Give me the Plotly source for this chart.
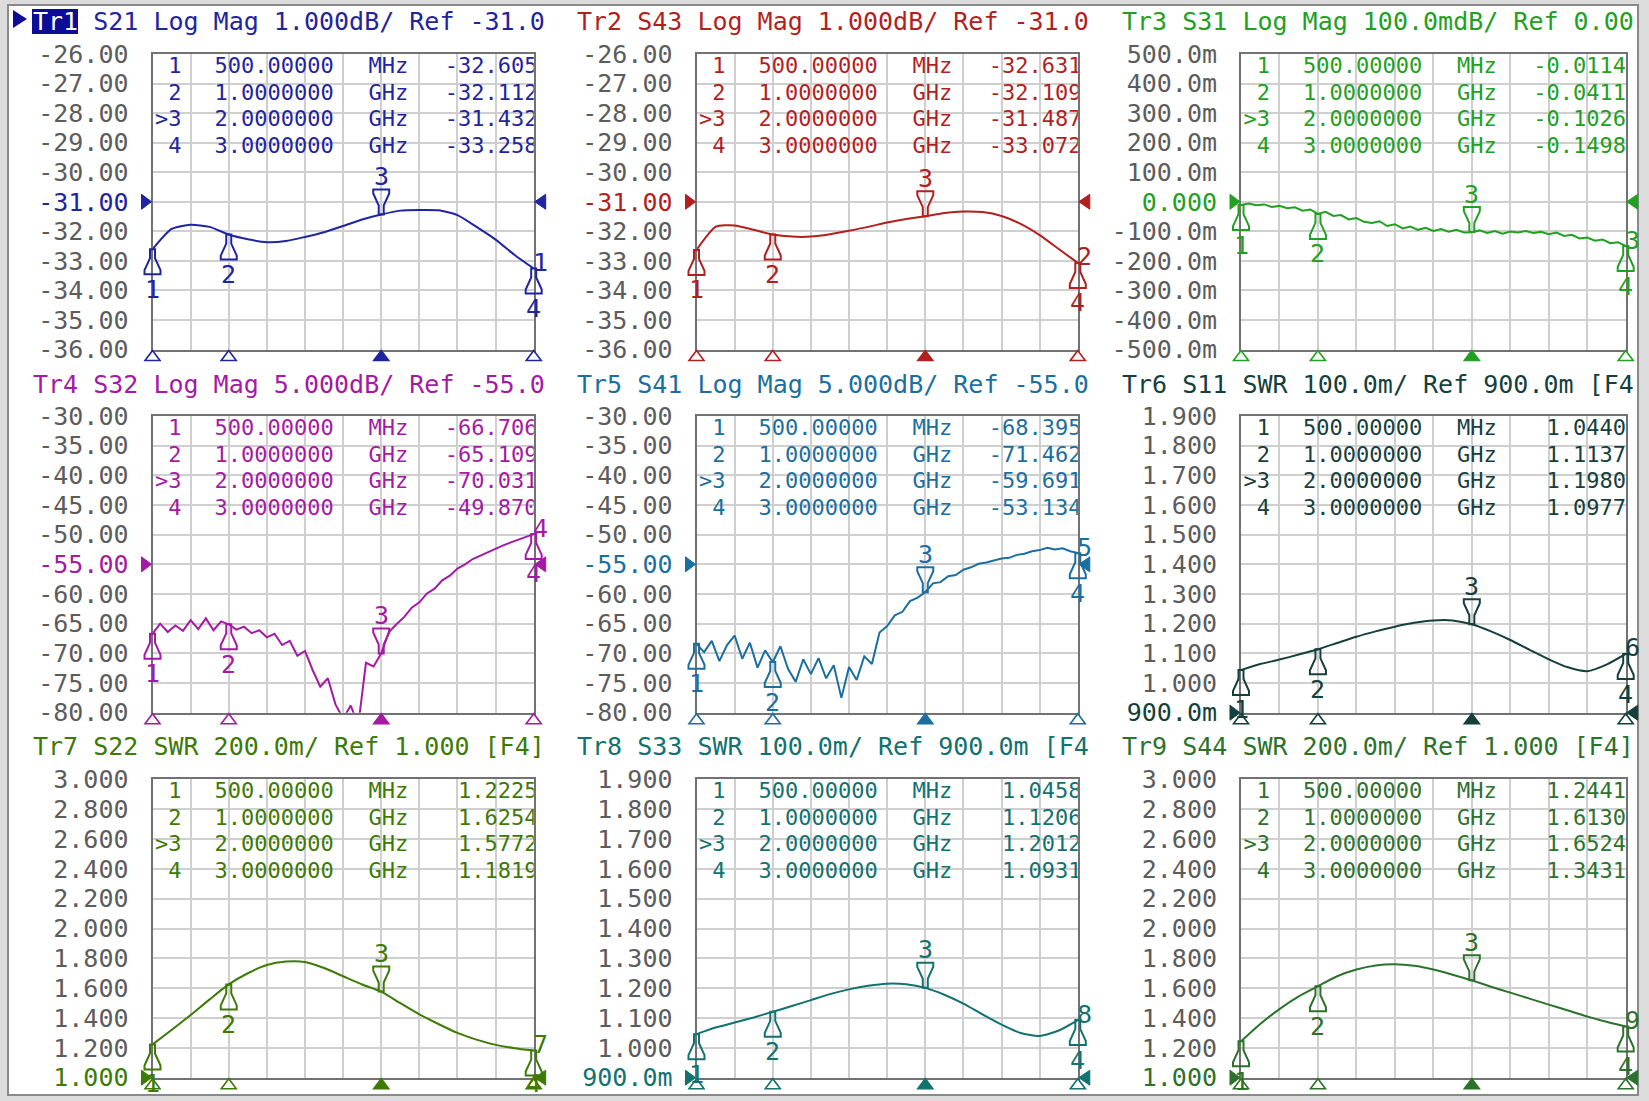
import plotly.graph_objects as go
from plotly.subplots import make_subplots

W, H = 1649, 1101
MONO = "DejaVu Sans Mono"
FS = 25          # headers, tick labels, marker numbers
FS_TABLE = 22    # marker table
NB = "\u00a0"
GRAY = "#5c5c5c"
GRID = "#cfcfcf"
FRAME = "#727272"

# sweep points (GHz)
FREQ = [0.5, 0.625, 0.75, 0.875, 1.0, 1.125, 1.25, 1.375, 1.5, 1.625, 1.75,
        1.875, 2.0, 2.125, 2.25, 2.375, 2.5, 2.625, 2.75, 2.875, 3.0]
FREQ_FINE = [0.50, 0.55, 0.60, 0.65, 0.70, 0.75, 0.80, 0.85, 0.90, 0.95,
             1.00, 1.05, 1.10, 1.15, 1.20, 1.25, 1.30, 1.35, 1.40, 1.45,
             1.50, 1.55, 1.60, 1.65, 1.70, 1.75, 1.80, 1.85, 1.90, 1.95,
             2.00, 2.05, 2.10, 2.15, 2.20, 2.25, 2.30, 2.35, 2.40, 2.45,
             2.50, 2.55, 2.60, 2.65, 2.70, 2.75, 2.80, 2.85, 2.90, 2.95, 3.00]
F_START, F_STOP = 0.5, 3.0

# markers
MK_FREQ = [0.5, 1.0, 2.0, 3.0]
MK_FREQ_TXT = ["500.00000", "1.0000000", "2.0000000", "3.0000000"]
MK_UNIT = ["MHz", "GHz", "GHz", "GHz"]

# traces
S21 = [-32.61, -31.92, -31.78, -31.85, -32.11, -32.27, -32.37, -32.33, -32.19, -32.03, -31.82,
       -31.60, -31.43, -31.30, -31.28, -31.29, -31.45, -31.85, -32.28, -32.80, -33.26]
S21_MK = [-32.605, -32.112, -31.432, -33.258]

S43 = [-32.63, -31.85, -31.80, -31.95, -32.11, -32.18, -32.18, -32.10, -31.98, -31.85, -31.70,
       -31.58, -31.49, -31.38, -31.33, -31.35, -31.48, -31.75, -32.13, -32.60, -33.07]
S43_MK = [-32.631, -32.109, -31.487, -33.072]

S31 = [-0.011, -0.006, -0.012, -0.009, -0.018, -0.014, -0.022, -0.019, -0.030, -0.026,
       -0.041, -0.034, -0.048, -0.045, -0.060, -0.055, -0.068, -0.072, -0.066, -0.082,
       -0.076, -0.090, -0.084, -0.095, -0.088, -0.099, -0.092, -0.101, -0.095, -0.104,
       -0.103, -0.097, -0.106, -0.099, -0.108, -0.101, -0.104, -0.099, -0.106, -0.102,
       -0.110, -0.104, -0.116, -0.112, -0.124, -0.121, -0.132, -0.128, -0.140, -0.137, -0.150]
S31_MK = [-0.0114, -0.0411, -0.1026, -0.1498]

S32 = [-66.7, -65.0, -66.4, -65.3, -66.2, -64.4, -65.9, -64.1, -66.1, -64.6,
       -65.1, -66.0, -65.5, -66.6, -66.1, -67.3, -66.7, -68.6, -67.9, -70.4,
       -69.6, -72.8, -75.6, -74.2, -78.6, -81.0, -78.8, -82.0, -71.6, -72.2,
       -70.0, -66.4, -65.1, -63.9, -62.3, -61.4, -59.9, -59.1, -57.7, -56.9,
       -55.7, -55.0, -54.1, -53.5, -52.9, -52.4, -51.8, -51.3, -50.8, -50.3, -49.9]
S32_MK = [-66.706, -65.109, -70.031, -49.870]

S41 = [-68.4, -69.8, -67.9, -71.3, -68.6, -67.0, -70.9, -68.2, -72.4, -69.5,
       -71.5, -68.8, -72.6, -74.8, -71.0, -73.5, -70.8, -74.2, -72.0, -77.5,
       -72.3, -74.5, -70.5, -71.8, -66.5, -65.4, -63.6, -63.0, -61.2, -60.6,
       -59.7, -58.2, -58.0, -57.0, -56.8, -55.9, -55.5, -54.9, -54.7, -54.3,
       -54.0, -53.9, -53.4, -53.2, -52.8, -52.6, -52.2, -52.5, -52.3, -52.8, -53.1]
S41_MK = [-68.395, -71.462, -59.691, -53.134]

S11 = [1.044, 1.064, 1.079, 1.096, 1.114, 1.135, 1.156, 1.174, 1.190, 1.203, 1.211,
       1.211, 1.198, 1.174, 1.145, 1.112, 1.080, 1.053, 1.040, 1.062, 1.098]
S11_MK = [1.0440, 1.1137, 1.1980, 1.0977]

S22 = [1.223, 1.320, 1.420, 1.525, 1.625, 1.700, 1.755, 1.778, 1.775, 1.735, 1.680,
       1.625, 1.577, 1.500, 1.425, 1.360, 1.300, 1.255, 1.220, 1.198, 1.182]
S22_MK = [1.2225, 1.6254, 1.5772, 1.1819]

S33 = [1.046, 1.068, 1.085, 1.102, 1.121, 1.140, 1.160, 1.180, 1.196, 1.208, 1.215,
       1.213, 1.201, 1.178, 1.148, 1.112, 1.078, 1.050, 1.040, 1.058, 1.093]
S33_MK = [1.0458, 1.1206, 1.2012, 1.0931]

S44 = [1.244, 1.360, 1.460, 1.545, 1.613, 1.680, 1.725, 1.752, 1.760, 1.750, 1.725,
       1.690, 1.652, 1.610, 1.570, 1.530, 1.490, 1.450, 1.410, 1.375, 1.343]
S44_MK = [1.2441, 1.6130, 1.6524, 1.3431]

# y tick labels, top to bottom
TICK_31 = ["-26.00", "-27.00", "-28.00", "-29.00", "-30.00", "-31.00",
           "-32.00", "-33.00", "-34.00", "-35.00", "-36.00"]
TICK_0 = ["500.0m", "400.0m", "300.0m", "200.0m", "100.0m", "0.000",
          "-100.0m", "-200.0m", "-300.0m", "-400.0m", "-500.0m"]
TICK_55 = ["-30.00", "-35.00", "-40.00", "-45.00", "-50.00", "-55.00",
           "-60.00", "-65.00", "-70.00", "-75.00", "-80.00"]
TICK_09 = ["1.900", "1.800", "1.700", "1.600", "1.500", "1.400",
           "1.300", "1.200", "1.100", "1.000", "900.0m"]
TICK_1 = ["3.000", "2.800", "2.600", "2.400", "2.200", "2.000",
          "1.800", "1.600", "1.400", "1.200", "1.000"]

PANELS = [
    dict(tr="Tr1", head="S21 Log Mag 1.000dB/ Ref -31.0", color="#1f24a0", x=FREQ, y=S21,
         mk=S21_MK, fmt="{:.3f}", ticks=TICK_31, top=-26.0, div=1.0, ref=-31.0, smooth=True),
    dict(tr="Tr2", head="S43 Log Mag 1.000dB/ Ref -31.0", color="#b31f1f", x=FREQ, y=S43,
         mk=S43_MK, fmt="{:.3f}", ticks=TICK_31, top=-26.0, div=1.0, ref=-31.0, smooth=True),
    dict(tr="Tr3", head="S31 Log Mag 100.0mdB/ Ref 0.00", color="#22a022", x=FREQ_FINE, y=S31,
         mk=S31_MK, fmt="{:.4f}", ticks=TICK_0, top=0.5, div=0.1, ref=0.0, smooth=False),
    dict(tr="Tr4", head="S32 Log Mag 5.000dB/ Ref -55.0", color="#a51aa5", x=FREQ_FINE, y=S32,
         mk=S32_MK, fmt="{:.3f}", ticks=TICK_55, top=-30.0, div=5.0, ref=-55.0, smooth=False),
    dict(tr="Tr5", head="S41 Log Mag 5.000dB/ Ref -55.0", color="#1b6fa0", x=FREQ_FINE, y=S41,
         mk=S41_MK, fmt="{:.3f}", ticks=TICK_55, top=-30.0, div=5.0, ref=-55.0, smooth=False),
    dict(tr="Tr6", head="S11 SWR 100.0m/ Ref 900.0m [F4", color="#153f3d", x=FREQ, y=S11,
         mk=S11_MK, fmt="{:.4f}", ticks=TICK_09, top=1.9, div=0.1, ref=0.9, smooth=True),
    dict(tr="Tr7", head="S22 SWR 200.0m/ Ref 1.000 [F4]", color="#3d7a06", x=FREQ, y=S22,
         mk=S22_MK, fmt="{:.4f}", ticks=TICK_1, top=3.0, div=0.2, ref=1.0, smooth=True),
    dict(tr="Tr8", head="S33 SWR 100.0m/ Ref 900.0m [F4", color="#117270", x=FREQ, y=S33,
         mk=S33_MK, fmt="{:.4f}", ticks=TICK_09, top=1.9, div=0.1, ref=0.9, smooth=True),
    dict(tr="Tr9", head="S44 SWR 200.0m/ Ref 1.000 [F4]", color="#2c722c", x=FREQ, y=S44,
         mk=S44_MK, fmt="{:.4f}", ticks=TICK_1, top=3.0, div=0.2, ref=1.0, smooth=True),
]

# screen geometry in pixels
COLS = [(152.5, 533.7), (696.5, 1077.8), (1241.0, 1625.7)]
ROWS = [(54.0, 349.5), (416.0, 712.7), (779.3, 1077.7)]
HEAD_X = [32.7, 577.3, 1121.5]
HEAD_Y = [21.7, 385.0, 746.7]
TABLE_OFF = [13.5, 40.0, 66.5, 93.0]          # row centres below grid top
TABLE_COL = [29.0, 62.0, 216.0, 385.0]        # num right, freq left, unit left, value right

UP_TACK = "M -2.5,0 L 2.5,0 L 2.5,-9 L 8,-21 L 8,-25 L -8,-25 L -8,-21 L -2.5,-9 Z"
DOWN_TACK = "M -2.5,0 L 2.5,0 L 2.5,9 L 8,21 L 8,25 L -8,25 L -8,21 L -2.5,9 Z"


def px(x):
    return x / W


def py(y):
    return 1 - y / H


fig = make_subplots(rows=3, cols=3)
shapes = [
    dict(type="rect", xref="paper", yref="paper", x0=px(8), x1=px(1638), y0=py(1095), y1=py(5),
         fillcolor="white", line=dict(color="#8a8a8a", width=2), layer="below"),
    dict(type="rect", xref="paper", yref="paper", x0=px(32), x1=px(78), y0=py(34), y1=py(9),
         fillcolor="#0c0c96", line=dict(width=0), layer="below"),
    dict(type="path", xref="paper", yref="paper",
         path=f"M {px(13)},{py(10)} L {px(27)},{py(19)} L {px(13)},{py(28)} Z",
         fillcolor="#0c0c96", line=dict(width=0)),
]
annotations = []

for k, p in enumerate(PANELS):
    r, c = divmod(k, 3)
    s = "" if k == 0 else str(k + 1)
    col = p["color"]
    bottom = p["top"] - 10 * p["div"]
    x0, x1 = COLS[c]
    y0, y1 = ROWS[r]

    # trace
    fig.add_trace(go.Scatter(
        x=p["x"], y=p["y"], mode="lines",
        line=dict(color=col, width=2, shape="spline" if p["smooth"] else "linear", smoothing=0.6),
        hoverinfo="skip", showlegend=False), row=r + 1, col=c + 1)

    # marker table, one text per field so the columns line up; clipped by the grid
    tx, ty, tt, tp = [], [], [], []
    for i in range(4):
        yy = p["top"] - TABLE_OFF[i] / (y1 - y0) * (p["top"] - bottom)
        fields = [(">" if i == 2 else "") + str(i + 1), MK_FREQ_TXT[i], MK_UNIT[i],
                  p["fmt"].format(p["mk"][i])]
        for j, txt in enumerate(fields):
            tx.append(F_START + TABLE_COL[j] / (x1 - x0) * (F_STOP - F_START))
            ty.append(yy)
            tt.append(txt)
            tp.append("middle left" if j in (0, 3) else "middle right")
    fig.add_trace(go.Scatter(
        x=tx, y=ty, mode="text", text=tt, textposition=tp,
        textfont=dict(family=MONO, size=FS_TABLE, color=col), cliponaxis=True,
        hoverinfo="skip", showlegend=False), row=r + 1, col=c + 1)

    # axes
    tickvals = [p["top"] - i * p["div"] for i in range(11)]
    ref_i = round((p["top"] - p["ref"]) / p["div"])
    ticktext = [f'<span style="color:{col}">{t}</span>' if i == ref_i else t
                for i, t in enumerate(p["ticks"])]
    fig.update_layout({
        f"xaxis{s}": dict(domain=[px(x0), px(x1)], range=[F_START, F_STOP], automargin=False,
                          tickvals=[F_START + 0.25 * i for i in range(11)], showticklabels=False,
                          ticks="", showgrid=True, gridcolor=GRID, gridwidth=2, zeroline=False,
                          showline=True, mirror=True, linecolor=FRAME, linewidth=2),
        f"yaxis{s}": dict(domain=[py(y1), py(y0)], range=[bottom, p["top"]], automargin=False,
                          tickvals=tickvals, ticktext=ticktext, ticks="",
                          tickfont=dict(family=MONO, size=FS, color=GRAY), ticklabelstandoff=17,
                          showgrid=True, gridcolor=GRID, gridwidth=2, zeroline=False,
                          showline=True, mirror=True, linecolor=FRAME, linewidth=2),
    })

    # header
    head = f'<span style="color:#ffffff">{p["tr"]}</span>' if k == 0 else p["tr"]
    head += (" " + p["head"]).replace(" ", NB)
    annotations.append(dict(xref="paper", yref="paper", x=px(HEAD_X[c] - 2), y=py(HEAD_Y[r]),
                            xanchor="left", yanchor="middle", text=head, showarrow=False,
                            font=dict(family=MONO, size=FS, color=col)))

    # reference level arrows
    ref_frac = (p["ref"] - bottom) / (p["top"] - bottom)
    for xa, path in ((0, "M -11,-7.5 L -1,0 L -11,7.5 Z"), (1, "M 1,0 L 12,7.5 L 12,-7.5 Z")):
        shapes.append(dict(type="path", xref=f"x{s} domain", yref=f"y{s} domain",
                           xsizemode="pixel", ysizemode="pixel", xanchor=xa, yanchor=ref_frac,
                           path=path, fillcolor=col, line=dict(color=col, width=1)))

    # markers
    for i, (f, v) in enumerate(zip(MK_FREQ, p["mk"])):
        fx = (f - F_START) / (F_STOP - F_START)
        active = i == 2
        shapes.append(dict(type="path", xref=f"x{s} domain", yref=f"y{s}",
                           xsizemode="pixel", ysizemode="pixel", xanchor=fx, yanchor=v,
                           path=DOWN_TACK if active else UP_TACK,
                           fillcolor="rgba(0,0,0,0)", line=dict(color=col, width=2)))
        shapes.append(dict(type="path", xref=f"x{s} domain", yref=f"y{s} domain",
                           xsizemode="pixel", ysizemode="pixel", xanchor=fx, yanchor=0,
                           path="M 0,-1 L -7.5,-11 L 7.5,-11 Z",
                           fillcolor=col if active else "white", line=dict(color=col, width=1.6)))
        # keep the number inside the screen when the marker sits near the bottom edge
        v_px = y0 + (p["top"] - v) / (p["top"] - bottom) * (y1 - y0)
        shift = 38 if active else -min(40, H - 17 - v_px)
        annotations.append(dict(xref=f"x{s}", yref=f"y{s}", x=f, y=v, text=str(i + 1),
                                showarrow=False, yshift=shift,
                                font=dict(family=MONO, size=FS, color=col)))

    # trace number at the end of the sweep
    annotations.append(dict(xref=f"x{s}", yref=f"y{s}", x=p["x"][-1], y=p["y"][-1],
                            text=str(k + 1), showarrow=False, xshift=7, yshift=6,
                            font=dict(family=MONO, size=FS, color=col)))

fig.update_layout(
    width=W, height=H,
    margin=dict(l=0, r=0, t=0, b=0, pad=0, autoexpand=False),
    paper_bgcolor="#dcdcdc", plot_bgcolor="white",
    font=dict(family=MONO, size=FS, color=GRAY),
    shapes=shapes, annotations=annotations,
    hovermode=False, showlegend=False,
)

fig.write_html("out.html", config={"displayModeBar": False},
               post_script="document.body.style.margin='0';document.body.style.overflow='hidden';")
